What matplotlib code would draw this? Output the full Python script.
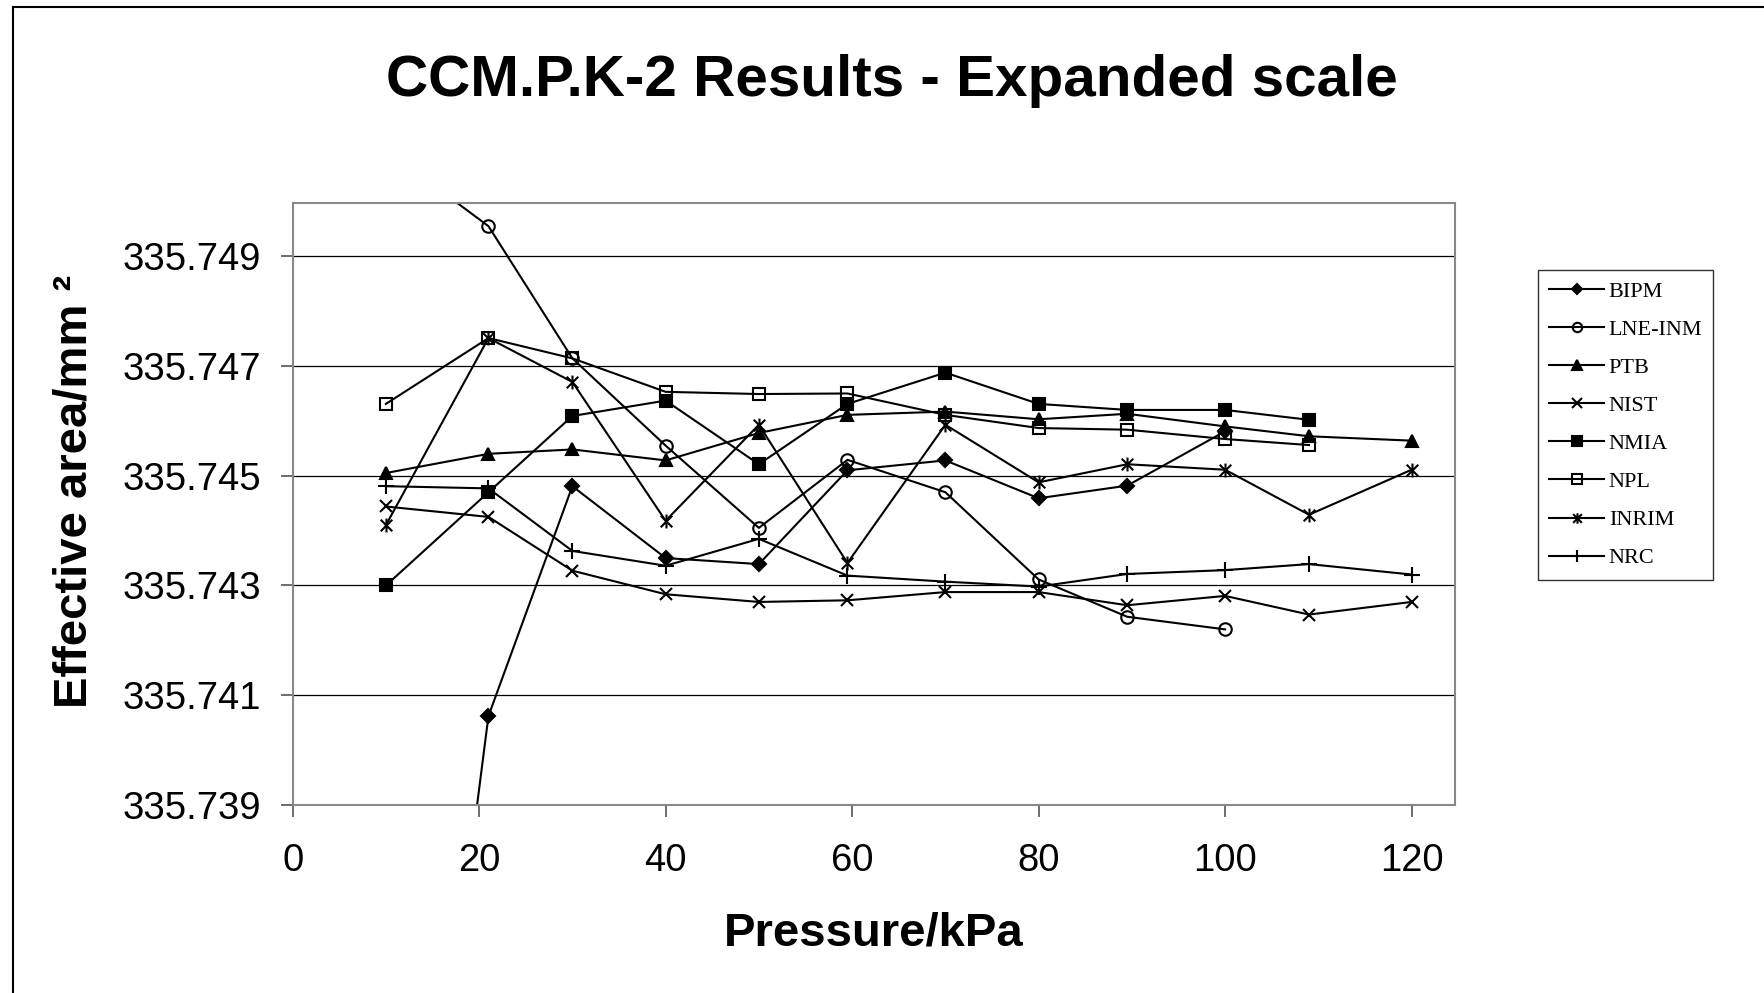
import matplotlib
matplotlib.use("Agg")
import matplotlib.pyplot as plt
from matplotlib.path import Path
from matplotlib.lines import Line2D

# pressure points (kPa)
pressure = [10, 21, 30, 40, 50, 59.5, 70, 80, 89.5, 100, 109, 120]

bipm = [335.7260, 335.74062, 335.74481, 335.74350, 335.74339, 335.74510,
        335.74528, 335.74459, 335.74482, 335.74581]
lne_inm = [335.75094, 335.74955, 335.74714, 335.74555, 335.74405, 335.74529,
           335.74470, 335.74311, 335.74243, 335.74220]
ptb = [335.74505, 335.74540, 335.74548, 335.74528, 335.74578, 335.74611,
       335.74617, 335.74603, 335.74613, 335.74590, 335.74572, 335.74564]
nist = [335.74444, 335.74425, 335.74327, 335.74284, 335.74270, 335.74273,
        335.74288, 335.74288, 335.74264, 335.74281, 335.74247, 335.74270]
nmia = [335.74300, 335.74470, 335.74609, 335.74637, 335.74521, 335.74631,
        335.74688, 335.74631, 335.74620, 335.74620, 335.74602]
npl = [335.74631, 335.74751, 335.74714, 335.74653, 335.74649, 335.74650,
       335.74611, 335.74587, 335.74584, 335.74567, 335.74556]
inrim = [335.74410, 335.74751, 335.74671, 335.74418, 335.74593, 335.74341,
         335.74593, 335.74488, 335.74521, 335.74511, 335.74429, 335.74511]
nrc = [335.74481, 335.74477, 335.74363, 335.74336, 335.74385, 335.74318,
       335.74307, 335.74298, 335.74321, 335.74328, 335.74339, 335.74320]

labels = ["BIPM", "LNE-INM", "PTB", "NIST", "NMIA", "NPL", "INRIM", "NRC"]
series = [bipm, lne_inm, ptb, nist, nmia, npl, inrim, nrc]

# Excel-style "star": an x with a vertical bar through it
star = Path([(-1, -1), (1, 1), (-1, 1), (1, -1), (0, -1.2), (0, 1.2)],
            [Path.MOVETO, Path.LINETO, Path.MOVETO, Path.LINETO, Path.MOVETO, Path.LINETO])

styles = [
    dict(marker="D", ms=7, mfc="black"),
    dict(marker="o", ms=9, mfc="none"),
    dict(marker="^", ms=9, mfc="black"),
    dict(marker="x", ms=9, mfc="none"),
    dict(marker="s", ms=9, mfc="black"),
    dict(marker="s", ms=9, mfc="none"),
    dict(marker=star, ms=10, mfc="none"),
    dict(marker="+", ms=11, mfc="none"),
]

plt.rcParams["font.family"] = ["Liberation Sans", "DejaVu Sans"]

fig = plt.figure(figsize=(17.65, 9.93), dpi=100)
ax = fig.add_axes([0.1658, 0.1894, 0.6588, 0.6066])

for lab, vals, st in zip(labels, series, styles):
    ax.plot(pressure[:len(vals)], vals, color="black", lw=1.5,
            mec="black", mew=1.5, label=lab, **st)

ax.set_xlim(0, 124.7)
ax.set_ylim(335.739, 335.74998)
ax.set_xticks(range(0, 121, 20))
ax.set_yticks([335.739, 335.741, 335.743, 335.745, 335.747, 335.749])
ax.set_yticklabels(["335.739", "335.741", "335.743", "335.745", "335.747", "335.749"])
ax.yaxis.grid(True, color="black", lw=0.9)
ax.set_axisbelow(True)
ax.tick_params(labelsize=27.5, length=8.5, width=1.2, color="#555555")
ax.tick_params(axis="y", pad=14)
ax.tick_params(axis="x", pad=19)
for sp in ax.spines.values():
    sp.set_color("#888888")
    sp.set_linewidth(1.5)

ax.set_xlabel("Pressure/kPa", fontsize=34, fontweight="bold", labelpad=23)
fig.text(0.042, 0.505, "Effective area/mm \u00b2", rotation=90, fontsize=34,
         fontweight="bold", ha="center", va="center")
fig.text(0.5054, 0.918, "CCM.P.K-2 Results - Expanded scale", fontsize=42,
         fontweight="bold", ha="center", va="center")

leg = ax.legend(loc="upper left", bbox_to_anchor=(1.0707, 0.888), borderaxespad=0,
                prop={"family": "Liberation Serif", "size": 16}, frameon=True,
                fancybox=False, edgecolor="black", labelspacing=0.79,
                handlelength=2.5, handletextpad=0.2, borderpad=0.5, markerscale=0.75)
leg.get_frame().set_linewidth(1.0)

# chart area border (only top and left edges are visible)
fig.add_artist(Line2D([12.7 / 1765, 1.0], [1 - 6.5 / 993, 1 - 6.5 / 993],
                      transform=fig.transFigure, color="black", lw=1.5))
fig.add_artist(Line2D([12.7 / 1765, 12.7 / 1765], [0, 1 - 6.5 / 993],
                      transform=fig.transFigure, color="black", lw=1.5))

fig.savefig("out.png", dpi=100)
